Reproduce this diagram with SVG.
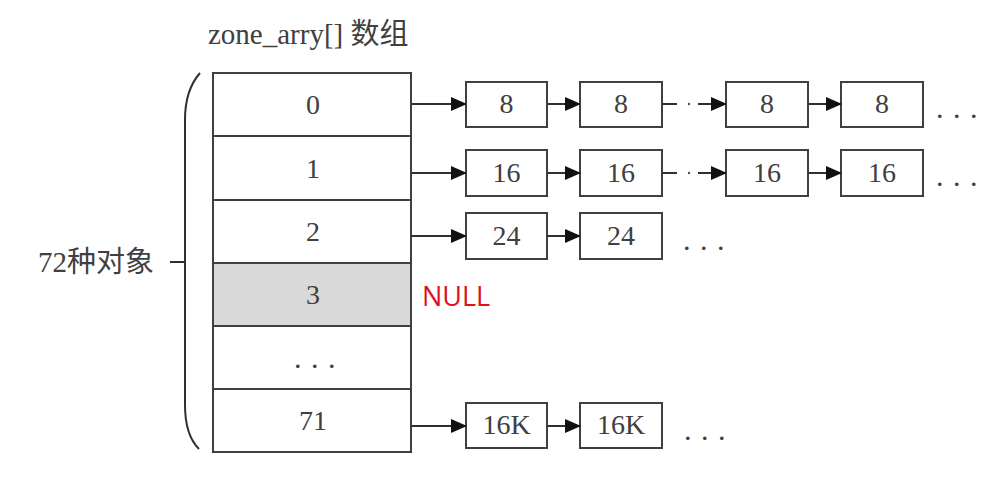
<svg xmlns="http://www.w3.org/2000/svg" width="1002" height="489" viewBox="0 0 1002 489">
<style>
.cell{fill:#ffffff;stroke:#404040;stroke-width:2}
.gray{fill:#d9d9d9}
.box{fill:#ffffff;stroke:#404040;stroke-width:2}
.t{font-family:"Liberation Serif","Noto Sans CJK SC",serif;font-size:28px;fill:#404040;text-anchor:middle;dominant-baseline:central}
.lbl{font-family:"Liberation Serif","Noto Sans CJK SC",serif;font-size:29px;fill:#404040}
.dots{font-family:"Liberation Serif",serif;font-size:30px;fill:#404040}
.null{font-family:"Open Sans","Liberation Sans",sans-serif;font-size:27px;fill:#e01020}
.ln{stroke:#303030;stroke-width:2;fill:none}
.ar{stroke:#303030;stroke-width:2;fill:none;marker-end:url(#ah)}
.dot{fill:#505050}
</style>
<defs>
<marker id="ah" markerWidth="16" markerHeight="14" refX="15" refY="7" orient="auto" markerUnits="userSpaceOnUse">
<path d="M0,0 L16,7 L0,14 Z" fill="#111"/>
</marker>
</defs>
<g id="title"><text class="lbl" x="208" y="44">zone_arry[] 数组</text></g>
<g id="brace">
<text class="lbl" x="38" y="272">72种对象</text>
<path class="ln" d="M170,262 L185,262"/>
<path class="ln" d="M200,73 Q185,90 185,120 L185,405 Q185,435 199,449" stroke="#555"/>
</g>
<g id="array">
<g id="cell0"><rect class="cell" x="213" y="73" width="198" height="63"/><text class="t" x="313" y="104">0</text></g>
<g id="cell1"><rect class="cell" x="213" y="136" width="198" height="64"/><text class="t" x="313" y="168">1</text></g>
<g id="cell2"><rect class="cell" x="213" y="200" width="198" height="63"/><text class="t" x="313" y="231">2</text></g>
<g id="cell3"><rect class="cell gray" x="213" y="263" width="198" height="63"/><text class="t" x="313" y="294">3</text></g>
<g id="cell4"><rect class="cell" x="213" y="326" width="198" height="63"/><text class="dots" x="294 311 328" y="368">...</text></g>
<g id="cell71"><rect class="cell" x="213" y="389" width="198" height="63"/><text class="t" x="313" y="420">71</text></g>
</g>
<g id="null"><text class="null" x="422" y="306">NULL</text></g>
<g id="row0">
<g id="n0a"><rect class="box" x="466" y="82" width="81" height="45"/><text class="t" x="506.5" y="103.5">8</text></g>
<g id="n0b"><rect class="box" x="580" y="82" width="82" height="45"/><text class="t" x="621" y="103.5">8</text></g>
<g id="n0c"><rect class="box" x="726" y="82" width="82" height="45"/><text class="t" x="767" y="103.5">8</text></g>
<g id="n0d"><rect class="box" x="841" y="82" width="82" height="45"/><text class="t" x="882" y="103.5">8</text></g>
<text class="dots" x="936 953 970" y="118">...</text>
</g>
<g id="row1">
<g id="n1a"><rect class="box" x="466" y="150" width="81" height="46"/><text class="t" x="506.5" y="172">16</text></g>
<g id="n1b"><rect class="box" x="580" y="150" width="82" height="46"/><text class="t" x="621" y="172">16</text></g>
<g id="n1c"><rect class="box" x="726" y="150" width="82" height="46"/><text class="t" x="767" y="172">16</text></g>
<g id="n1d"><rect class="box" x="841" y="150" width="82" height="46"/><text class="t" x="882" y="172">16</text></g>
<text class="dots" x="936 953 970" y="186">...</text>
</g>
<g id="row2">
<g id="n2a"><rect class="box" x="466" y="213" width="81" height="46"/><text class="t" x="506.5" y="235">24</text></g>
<g id="n2b"><rect class="box" x="580" y="213" width="82" height="46"/><text class="t" x="621" y="235">24</text></g>
<text class="dots" x="683 700 717" y="250">...</text>
</g>
<g id="row71">
<g id="n71a"><rect class="box" x="466" y="403" width="81" height="45"/><text class="t" x="506.5" y="424.5">16K</text></g>
<g id="n71b"><rect class="box" x="580" y="403" width="82" height="45"/><text class="t" x="621" y="424.5">16K</text></g>
<text class="dots" x="684 701 718" y="440">...</text>
</g>
<g id="connectors">
<path class="ar" d="M411,104 L466,104"/>
<path class="ar" d="M547,104 L580,104"/>
<path class="ln" d="M662,104 L677,104"/>
<circle class="dot" cx="689" cy="104" r="1.2"/>
<path class="ar" d="M698,104 L726,104"/>
<path class="ar" d="M808,104 L841,104"/>
<path class="ar" d="M411,173 L466,173"/>
<path class="ar" d="M547,173 L580,173"/>
<path class="ln" d="M662,173 L677,173"/>
<circle class="dot" cx="689" cy="173" r="1.2"/>
<path class="ar" d="M698,173 L726,173"/>
<path class="ar" d="M808,173 L841,173"/>
<path class="ar" d="M411,236 L466,236"/>
<path class="ar" d="M547,236 L580,236"/>
<path class="ar" d="M411,426 L466,426"/>
<path class="ar" d="M547,426 L580,426"/>
</g>
</svg>
